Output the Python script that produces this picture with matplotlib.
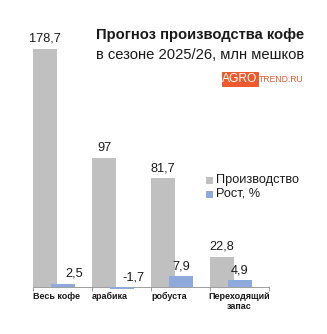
import matplotlib
matplotlib.use("Agg")
import matplotlib.pyplot as plt
from matplotlib.patches import Rectangle

plt.rcParams["font.family"] = ["Liberation Sans", "DejaVu Sans"]

# ── data ───────────────────────────────────────────────────────────────────────
categories = ["Весь кофе", "арабика", "робуста", "Переходящий\nзапас"]
production = [178.7, 97, 81.7, 22.8]
growth     = [2.5, -1.7, 7.9, 4.9]
prod_labels   = ["178,7", "97", "81,7", "22,8"]
growth_labels = ["2,5", "-1,7", "7,9", "4,9"]

GREY = "#C0C0C0"
BLUE = "#8EA9DB"
ORANGE = "#EE5A2C"

W, H, DPI = 327, 334, 72
fig = plt.figure(figsize=(W / DPI, H / DPI), dpi=DPI)

# axes placed in pixel terms: x 33..269, baseline at y=287, 1 unit ~ 1.332 px
y_min, y_max = -10, 200
px_per_unit = 1.332
ax_top = 287 - y_max * px_per_unit
ax_bot = 287 - y_min * px_per_unit
ax = fig.add_axes([33 / W, 1 - ax_bot / H, 236 / W, (ax_bot - ax_top) / H])
ax.set_xlim(-0.5, 3.5)
ax.set_ylim(y_min, y_max)

bw = 24 / 59
shift = 18 / 59
n = len(categories)
xs = list(range(n))
grey_left = [x - 0.5 for x in xs]
blue_left = [x - 0.5 + shift for x in xs]

ax.bar(grey_left, production, width=bw, align="edge", color=GREY, zorder=2)
ax.bar(blue_left, growth, width=bw, align="edge", color=BLUE, zorder=3)

for xl, v, s in zip(grey_left, production, prod_labels):
    ax.annotate(s, (xl + bw / 2, v), xytext=(0, 4), textcoords="offset points",
                ha="center", va="bottom", fontsize=12.8, color="#1a1a1a")

# first two growth labels sit to the right so they clear the grey bars
g_dx = [11, 11, 0, 0]
for xl, v, s, dx in zip(blue_left, growth, growth_labels, g_dx):
    ax.annotate(s, (xl + bw / 2, max(v, 0)), xytext=(dx, 4), textcoords="offset points",
                ha="center", va="bottom", fontsize=12.8, color="#1a1a1a")

for side in ["top", "right", "left"]:
    ax.spines[side].set_visible(False)
ax.spines["bottom"].set_position(("data", 0))
ax.spines["bottom"].set_color("#888888")
ax.spines["bottom"].set_linewidth(0.8)
ax.set_yticks([])
ax.set_xticks([-0.5, 0.5, 1.5, 2.5, 3.5])
ax.set_xticklabels([])
ax.tick_params(axis="x", length=4, color="#888888", width=0.8)

lab_x = [-0.5, 0.5, 1.5, 3.0]
lab_ha = ["left", "left", "left", "center"]
for x, s, ha in zip(lab_x, categories, lab_ha):
    ax.text(x, -3.8, s, ha=ha, va="top", fontsize=9, fontweight="bold",
            color="#1a1a1a", linespacing=1.2, transform=ax.transData)

# legend
fig.patches.append(Rectangle((206 / W, 1 - 183 / H), 6 / W, 6 / H,
                             transform=fig.transFigure, color=GREY))
fig.patches.append(Rectangle((206 / W, 1 - 197 / H), 6 / W, 6 / H,
                             transform=fig.transFigure, color=BLUE))
fig.text(216 / W, 1 - 180 / H, "Производство", fontsize=12.8, va="center", color="#1a1a1a")
fig.text(216 / W, 1 - 194 / H, "Рост, %", fontsize=12.8, va="center", color="#1a1a1a")

# title
fig.text(200 / W, 1 - 35 / H, "Прогноз производства кофе", fontsize=14.8,
         fontweight="bold", ha="center", va="center", color="#1a1a1a")
fig.text(200 / W, 1 - 55 / H, "в сезоне 2025/26, млн мешков", fontsize=14.8,
         ha="center", va="center", color="#1a1a1a")

# logo
fig.patches.append(Rectangle((222 / W, 1 - 86 / H), 36 / W, 14 / H,
                             transform=fig.transFigure, color=ORANGE))
fig.text(240 / W, 1 - 79 / H, "AGRO", fontsize=12, color="white", ha="center",
         va="center", fontstretch="condensed")
fig.text(259 / W, 1 - 79.5 / H, "TREND.RU", fontsize=8.6, color=ORANGE, ha="left",
         va="center")

fig.savefig("out.png", dpi=DPI)
